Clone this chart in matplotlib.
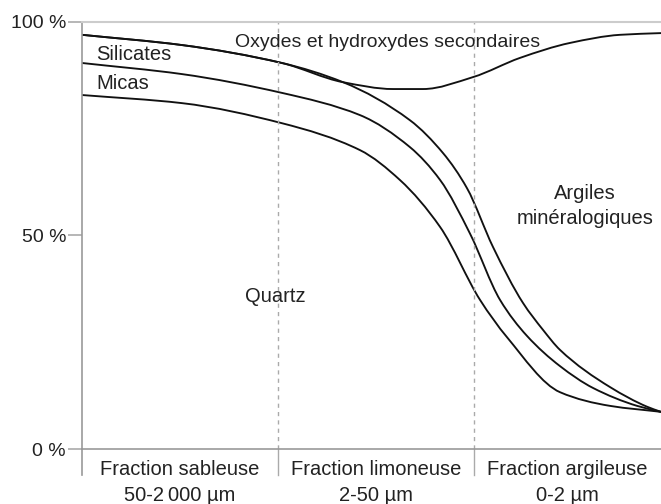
import numpy as np
import matplotlib
matplotlib.use("Agg")
import matplotlib.pyplot as plt
from matplotlib.path import Path
from matplotlib.patches import PathPatch

plt.rcParams['font.family'] = ['Liberation Sans', 'DejaVu Sans']

#%% data (x in fraction widths, y in %)
# lower edge of the secondary oxides band
x_oxydes = [0.0, 0.51, 1.02, 1.332, 1.587, 1.740, 1.995, 2.235, 2.490, 2.745, 2.954]
y_oxydes = [97.0, 94.6, 90.4, 85.9, 84.3, 84.3, 87.1, 91.6, 95.1, 97.0, 97.4]

# upper boundary of silicates
x_silicates = [0.0, 0.51, 1.02, 1.332, 1.673, 1.842, 1.964, 2.097, 2.250, 2.352,
               2.439, 2.694, 2.883, 2.954]
y_silicates = [97.0, 94.6, 90.4, 85.9, 77.0, 69.3, 61.1, 47.3, 34.2, 27.9,
               23.2, 14.5, 9.9, 8.7]

# upper boundary of micas
x_micas = [0.0, 0.51, 1.02, 1.418, 1.673, 1.827, 1.980, 2.133, 2.270, 2.439,
           2.607, 2.832, 2.954]
y_micas = [90.4, 87.8, 83.4, 78.2, 70.7, 63.0, 50.4, 34.9, 26.5, 19.4,
           14.3, 10.1, 8.7]

# upper boundary of quartz
x_quartz = [0.0, 0.51, 1.02, 1.418, 1.622, 1.827, 2.031, 2.168, 2.439, 2.694, 2.954]
y_quartz = [82.9, 81.0, 76.3, 70.0, 63.0, 52.0, 34.9, 26.2, 13.3, 10.1, 8.7]

fractions = ['Fraction sableuse\n50-2\u2009000 \u00b5m',
             'Fraction limoneuse\n2-50 \u00b5m',
             'Fraction argileuse\n0-2 \u00b5m']
dividers = [1, 2]
xmax = 2.954


def smooth_path(xs, ys):
    # shape preserving hermite tangents (pchip style), drawn as bezier segments
    x = np.asarray(xs, float)
    y = np.asarray(ys, float)
    h = np.diff(x)
    d = np.diff(y) / h
    m = np.zeros_like(y)
    m[0], m[-1] = d[0], d[-1]
    for k in range(1, len(x) - 1):
        if d[k - 1] * d[k] <= 0:
            m[k] = 0.0
        else:
            w1 = 2 * h[k] + h[k - 1]
            w2 = h[k] + 2 * h[k - 1]
            m[k] = (w1 + w2) / (w1 / d[k - 1] + w2 / d[k])
    verts = [(x[0], y[0])]
    codes = [Path.MOVETO]
    for k in range(len(x) - 1):
        verts += [(x[k] + h[k] / 3, y[k] + m[k] * h[k] / 3),
                  (x[k + 1] - h[k] / 3, y[k + 1] - m[k + 1] * h[k] / 3),
                  (x[k + 1], y[k + 1])]
        codes += [Path.CURVE4] * 3
    return Path(verts, codes)


#%%
fig = plt.figure(figsize=(6.61, 5.04), dpi=100)
ax = fig.add_axes([82/661, 1 - 449/504, 1 - 82/661, 427/504])

for xs, ys in [(x_oxydes, y_oxydes), (x_silicates, y_silicates),
               (x_micas, y_micas), (x_quartz, y_quartz)]:
    ax.add_patch(PathPatch(smooth_path(xs, ys), facecolor='none',
                           edgecolor='#111111', lw=1.35))

for d in dividers:
    ax.plot([d, d], [0, 100], color='#aaaaaa', lw=1, ls=(0, (3, 3)))
    ax.plot([d, d], [-6, 0], color='#aaaaaa', lw=1, clip_on=False)
ax.plot([0, 0], [-6, 0], color='#999999', lw=1.2, clip_on=False)

ax.set_xlim(0, xmax)
ax.set_ylim(0, 100)
ax.set_xticks([])
ax.set_yticks([0, 50, 100])
ax.set_yticklabels(['0 %', '50 %', '100 %'])
ax.tick_params(axis='y', length=10, width=1.2, color='#aaaaaa', pad=1.5,
               labelsize=14, labelcolor='#222222')
ax.spines['right'].set_visible(False)
ax.spines['top'].set_color('#cccccc')
ax.spines['top'].set_linewidth(1.5)
ax.spines['left'].set_color('#999999')
ax.spines['left'].set_linewidth(1.2)
ax.spines['bottom'].set_color('#999999')
ax.spines['bottom'].set_linewidth(1.2)

tc = '#222222'
fs = 14.5
ax.text(1.561, 95.3, 'Oxydes et hydroxydes secondaires', ha='center', va='center',
        fontsize=14, color=tc)
ax.text(0.071, 92.5, 'Silicates', ha='left', va='center', fontsize=fs, color=tc)
ax.text(0.071, 85.7, 'Micas', ha='left', va='center', fontsize=fs, color=tc)
ax.text(0.985, 35.8, 'Quartz', ha='center', va='center', fontsize=fs, color=tc)
ax.text(2.566, 56.9, 'Argiles\nmin\u00e9ralogiques', ha='center', va='center',
        fontsize=fs, color=tc, linespacing=1.4)

centers = [0.5, 1.5, (2 + xmax) / 2]
for cx, lab in zip(centers, fractions):
    ax.text(cx, -0.079, lab, ha='center', va='center', fontsize=fs, color=tc,
            transform=ax.get_xaxis_transform(), linespacing=1.5)

fig.savefig('out.png', dpi=100)
